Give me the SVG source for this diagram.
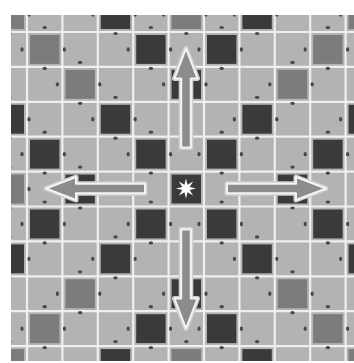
<svg xmlns="http://www.w3.org/2000/svg" xmlns:xlink="http://www.w3.org/1999/xlink" width="354" height="363" viewBox="0 0 354 363">
<style>
.bg{fill:#b3b3b3}
.gl{stroke:#efefef;stroke-width:2.2}
.d{fill:#3a3a3a}
.m{fill:#7c7c7c}
.dot{fill:#484848}
.ah{fill:none;stroke:#d0d0d0;stroke-width:5;stroke-linejoin:round}
.ar{fill:#8c8c8c;stroke:#f4f4f4;stroke-width:2;stroke-linejoin:round}
.star{fill:#ffffff}
</style>
<defs>
<clipPath id="clip"><rect x="11" y="15" width="343" height="346"/></clipPath>
<g id="t">
<rect x="3" y="3" width="29.4" height="28.9"/>
<ellipse class="dot" cx="17.7" cy="-4.5" rx="2.2" ry="1.6"/>
<ellipse class="dot" cx="17.7" cy="36.4" rx="2.2" ry="1.6"/>
<ellipse class="dot" cx="-5" cy="17.45" rx="1.6" ry="2.2"/>
<ellipse class="dot" cx="37.4" cy="17.45" rx="1.6" ry="2.2"/>
</g>
<path id="arr" d="M0,-140 L11.5,-110 L4.8,-110 L4.8,-41 L-4.8,-41 L-4.8,-110 L-11.5,-110 Z"/>
</defs>
<g clip-path="url(#clip)">
<rect class="bg" x="11" y="15" width="343" height="346"/>
<g id="grid">
<line class="gl" x1="27" y1="15" x2="27" y2="361"/>
<line class="gl" x1="62.4" y1="15" x2="62.4" y2="361"/>
<line class="gl" x1="97.8" y1="15" x2="97.8" y2="361"/>
<line class="gl" x1="133.2" y1="15" x2="133.2" y2="361"/>
<line class="gl" x1="168.6" y1="15" x2="168.6" y2="361"/>
<line class="gl" x1="204" y1="15" x2="204" y2="361"/>
<line class="gl" x1="239.4" y1="15" x2="239.4" y2="361"/>
<line class="gl" x1="274.8" y1="15" x2="274.8" y2="361"/>
<line class="gl" x1="310.2" y1="15" x2="310.2" y2="361"/>
<line class="gl" x1="345.6" y1="15" x2="345.6" y2="361"/>
<line class="gl" x1="11" y1="32" x2="354" y2="32"/>
<line class="gl" x1="11" y1="66.9" x2="354" y2="66.9"/>
<line class="gl" x1="11" y1="101.8" x2="354" y2="101.8"/>
<line class="gl" x1="11" y1="136.7" x2="354" y2="136.7"/>
<line class="gl" x1="11" y1="171.6" x2="354" y2="171.6"/>
<line class="gl" x1="11" y1="206.5" x2="354" y2="206.5"/>
<line class="gl" x1="11" y1="241.4" x2="354" y2="241.4"/>
<line class="gl" x1="11" y1="276.3" x2="354" y2="276.3"/>
<line class="gl" x1="11" y1="311.2" x2="354" y2="311.2"/>
<line class="gl" x1="11" y1="346.1" x2="354" y2="346.1"/>
</g>
<g id="medium-tiles">
<use href="#t" class="m" x="-8.4" y="-2.9"/>
<use href="#t" class="m" x="168.6" y="-2.9"/>
<use href="#t" class="m" x="345.6" y="-2.9"/>
<use href="#t" class="m" x="27" y="32"/>
<use href="#t" class="m" x="310.2" y="32"/>
<use href="#t" class="m" x="62.4" y="66.9"/>
<use href="#t" class="m" x="274.8" y="66.9"/>
<use href="#t" class="m" x="-8.4" y="171.6"/>
<use href="#t" class="m" x="62.4" y="276.3"/>
<use href="#t" class="m" x="274.8" y="276.3"/>
<use href="#t" class="m" x="27" y="311.2"/>
<use href="#t" class="m" x="310.2" y="311.2"/>
<use href="#t" class="m" x="-8.4" y="346.1"/>
<use href="#t" class="m" x="168.6" y="346.1"/>
<use href="#t" class="m" x="345.6" y="346.1"/>
</g>
<g id="dark-tiles">
<use href="#t" class="d" x="97.8" y="-2.9"/>
<use href="#t" class="d" x="239.4" y="-2.9"/>
<use href="#t" class="d" x="133.2" y="32"/>
<use href="#t" class="d" x="204" y="32"/>
<use href="#t" class="d" x="168.6" y="66.9"/>
<use href="#t" class="d" x="-8.4" y="101.8"/>
<use href="#t" class="d" x="97.8" y="101.8"/>
<use href="#t" class="d" x="239.4" y="101.8"/>
<use href="#t" class="d" x="345.6" y="101.8"/>
<use href="#t" class="d" x="27" y="136.7"/>
<use href="#t" class="d" x="133.2" y="136.7"/>
<use href="#t" class="d" x="204" y="136.7"/>
<use href="#t" class="d" x="310.2" y="136.7"/>
<use href="#t" class="d" x="62.4" y="171.6"/>
<use href="#t" class="d" x="274.8" y="171.6"/>
<use href="#t" class="d" x="27" y="206.5"/>
<use href="#t" class="d" x="133.2" y="206.5"/>
<use href="#t" class="d" x="204" y="206.5"/>
<use href="#t" class="d" x="310.2" y="206.5"/>
<use href="#t" class="d" x="-8.4" y="241.4"/>
<use href="#t" class="d" x="97.8" y="241.4"/>
<use href="#t" class="d" x="239.4" y="241.4"/>
<use href="#t" class="d" x="345.6" y="241.4"/>
<use href="#t" class="d" x="168.6" y="276.3"/>
<use href="#t" class="d" x="133.2" y="311.2"/>
<use href="#t" class="d" x="204" y="311.2"/>
<use href="#t" class="d" x="97.8" y="346.1"/>
<use href="#t" class="d" x="239.4" y="346.1"/>
</g>
<g id="center">
<rect class="d" x="171.6" y="174.6" width="29.4" height="28.9"/>
</g>
<g id="arrows">
<use href="#arr" class="ah" transform="translate(186,188.5)"/>
<use href="#arr" class="ar" transform="translate(186,188.5)"/>
<use href="#arr" class="ah" transform="translate(186,188.5) rotate(90)"/>
<use href="#arr" class="ar" transform="translate(186,188.5) rotate(90)"/>
<use href="#arr" class="ah" transform="translate(186,188.5) rotate(180)"/>
<use href="#arr" class="ar" transform="translate(186,188.5) rotate(180)"/>
<use href="#arr" class="ah" transform="translate(186,188.5) rotate(270)"/>
<use href="#arr" class="ar" transform="translate(186,188.5) rotate(270)"/>
</g>
<g id="star">
<polygon class="star" transform="translate(186,188.5)" points="0,-10 1.53,-3.7 7.07,-7.07 3.7,-1.53 10,0 3.7,1.53 7.07,7.07 1.53,3.7 0,10 -1.53,3.7 -7.07,7.07 -3.7,1.53 -10,0 -3.7,-1.53 -7.07,-7.07 -1.53,-3.7"/>
</g>
</g>
</svg>
